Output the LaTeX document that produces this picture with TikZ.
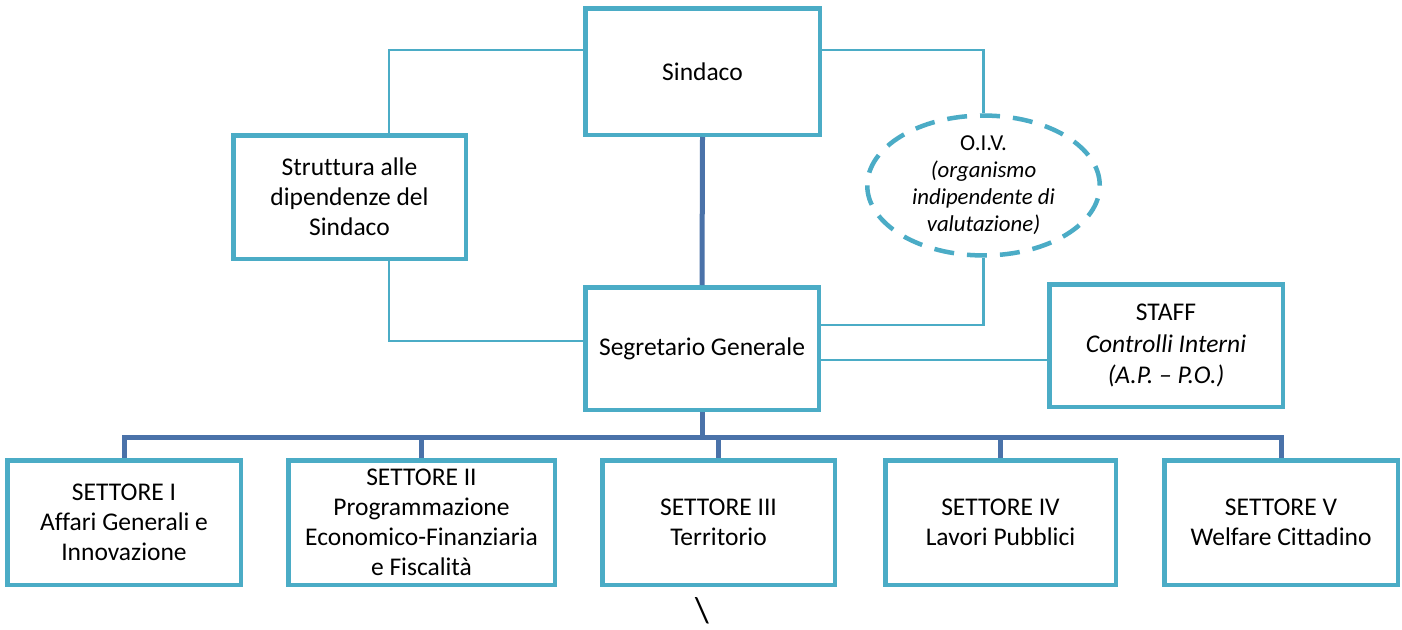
\documentclass[tikz,border=0pt]{standalone}
\usepackage{fontspec}
\setmainfont{Carlito}[Ligatures=NoCommon]
\usetikzlibrary{shapes.geometric}
\definecolor{boxblue}{HTML}{4BACC6}
\definecolor{trunkblue}{HTML}{4A72A9}
\begin{document}
\begin{tikzpicture}[x=1pt,y=-1pt,
  box/.style={draw=boxblue,line width=4.5pt,rectangle,align=center,inner sep=2pt,
    font=\fontsize{25.5}{30}\selectfont,text=black},
  oivbox/.style={draw=boxblue,line width=4.5pt,ellipse,align=center,inner sep=0pt,
    dash pattern=on 20pt off 13pt,font=\fontsize{22.8}{27}\selectfont,text=black},
  trunk/.style={draw=trunkblue,line width=5pt},
  link/.style={draw=boxblue,line width=2.2pt}]
\useasboundingbox (0,0) rectangle (1402,629);
\fill[white] (0,0) rectangle (1402,629);

% helper rows and columns for the thin links
\coordinate (ytop) at (0,50);
\coordinate (yoiv) at (0,325);
\coordinate (ystr) at (0,341);
\coordinate (ystaff) at (0,360);
\coordinate (bus) at (0,437);
\coordinate (xleft) at (389,0);

% boxes
\node[box,minimum width=234.5pt,minimum height=126.5pt] (sind) at (702.5,71.5) {Sindaco};
\node[box,minimum width=232.5pt,minimum height=123.5pt] (strut) at (349.5,197)
  {Struttura alle\\dipendenze del\\Sindaco};
\node[oivbox,minimum width=232.5pt,minimum height=120.5pt] (oiv) at (983.5,185.5)
  {O.I.V.\\\itshape(organismo\\\itshape indipendente di\\\itshape valutazione)};
\node[box,minimum width=233.5pt,minimum height=122.5pt] (seg) at (702,348.5) {Segretario Generale};
\node[box,minimum width=233.5pt,minimum height=122.5pt,font=\fontsize{25.5}{31.5}\selectfont] (staff) at (1166,345.5)
  {STAFF\\\itshape Controlli Interni\\\itshape (A.P. -- P.O.)};

\node[box,minimum width=233.5pt,minimum height=124.5pt] (s1) at (124,522.5)
  {SETTORE I\\Affari Generali e\\Innovazione};
\node[box,minimum width=266.5pt,minimum height=124.5pt] (s2) at (421.5,522.5)
  {SETTORE II\\Programmazione\\Economico-Finanziaria\\e Fiscalità};
\node[box,minimum width=232.5pt,minimum height=124.5pt] (s3) at (718.5,522.5)
  {SETTORE III\\Territorio};
\node[box,minimum width=230.5pt,minimum height=124.5pt] (s4) at (1000.5,522.5)
  {SETTORE IV\\Lavori Pubblici};
\node[box,minimum width=233.5pt,minimum height=124.5pt] (s5) at (1281,522.5)
  {SETTORE V\\Welfare Cittadino};

\node[font=\fontsize{36}{36}\selectfont,inner sep=0pt] (bs) at (702,611) {\textbackslash};

% hierarchy trunk and bus
\draw[trunk] (sind.south) -- (seg.north);
\draw[trunk] (seg.south) -- (seg.south |- bus);
\draw[trunk] (s1.north) -- (s1.north |- bus) -- (s5.north |- bus) -- (s5.north);
\draw[trunk] (s2.north |- bus) -- (s2.north);
\draw[trunk] (s3.north |- bus) -- (s3.north);
\draw[trunk] (s4.north |- bus) -- (s4.north);

% thin links
\draw[link] (sind.west |- ytop) -| (xleft |- strut.north);
\draw[link] (xleft |- strut.south) |- (seg.west |- ystr);
\draw[link] (sind.east |- ytop) -| (oiv.north);
\draw[link] (oiv.south) |- (seg.east |- yoiv);
\draw[link] (seg.east |- ystaff) -- (staff.west |- ystaff);
\end{tikzpicture}
\end{document}
